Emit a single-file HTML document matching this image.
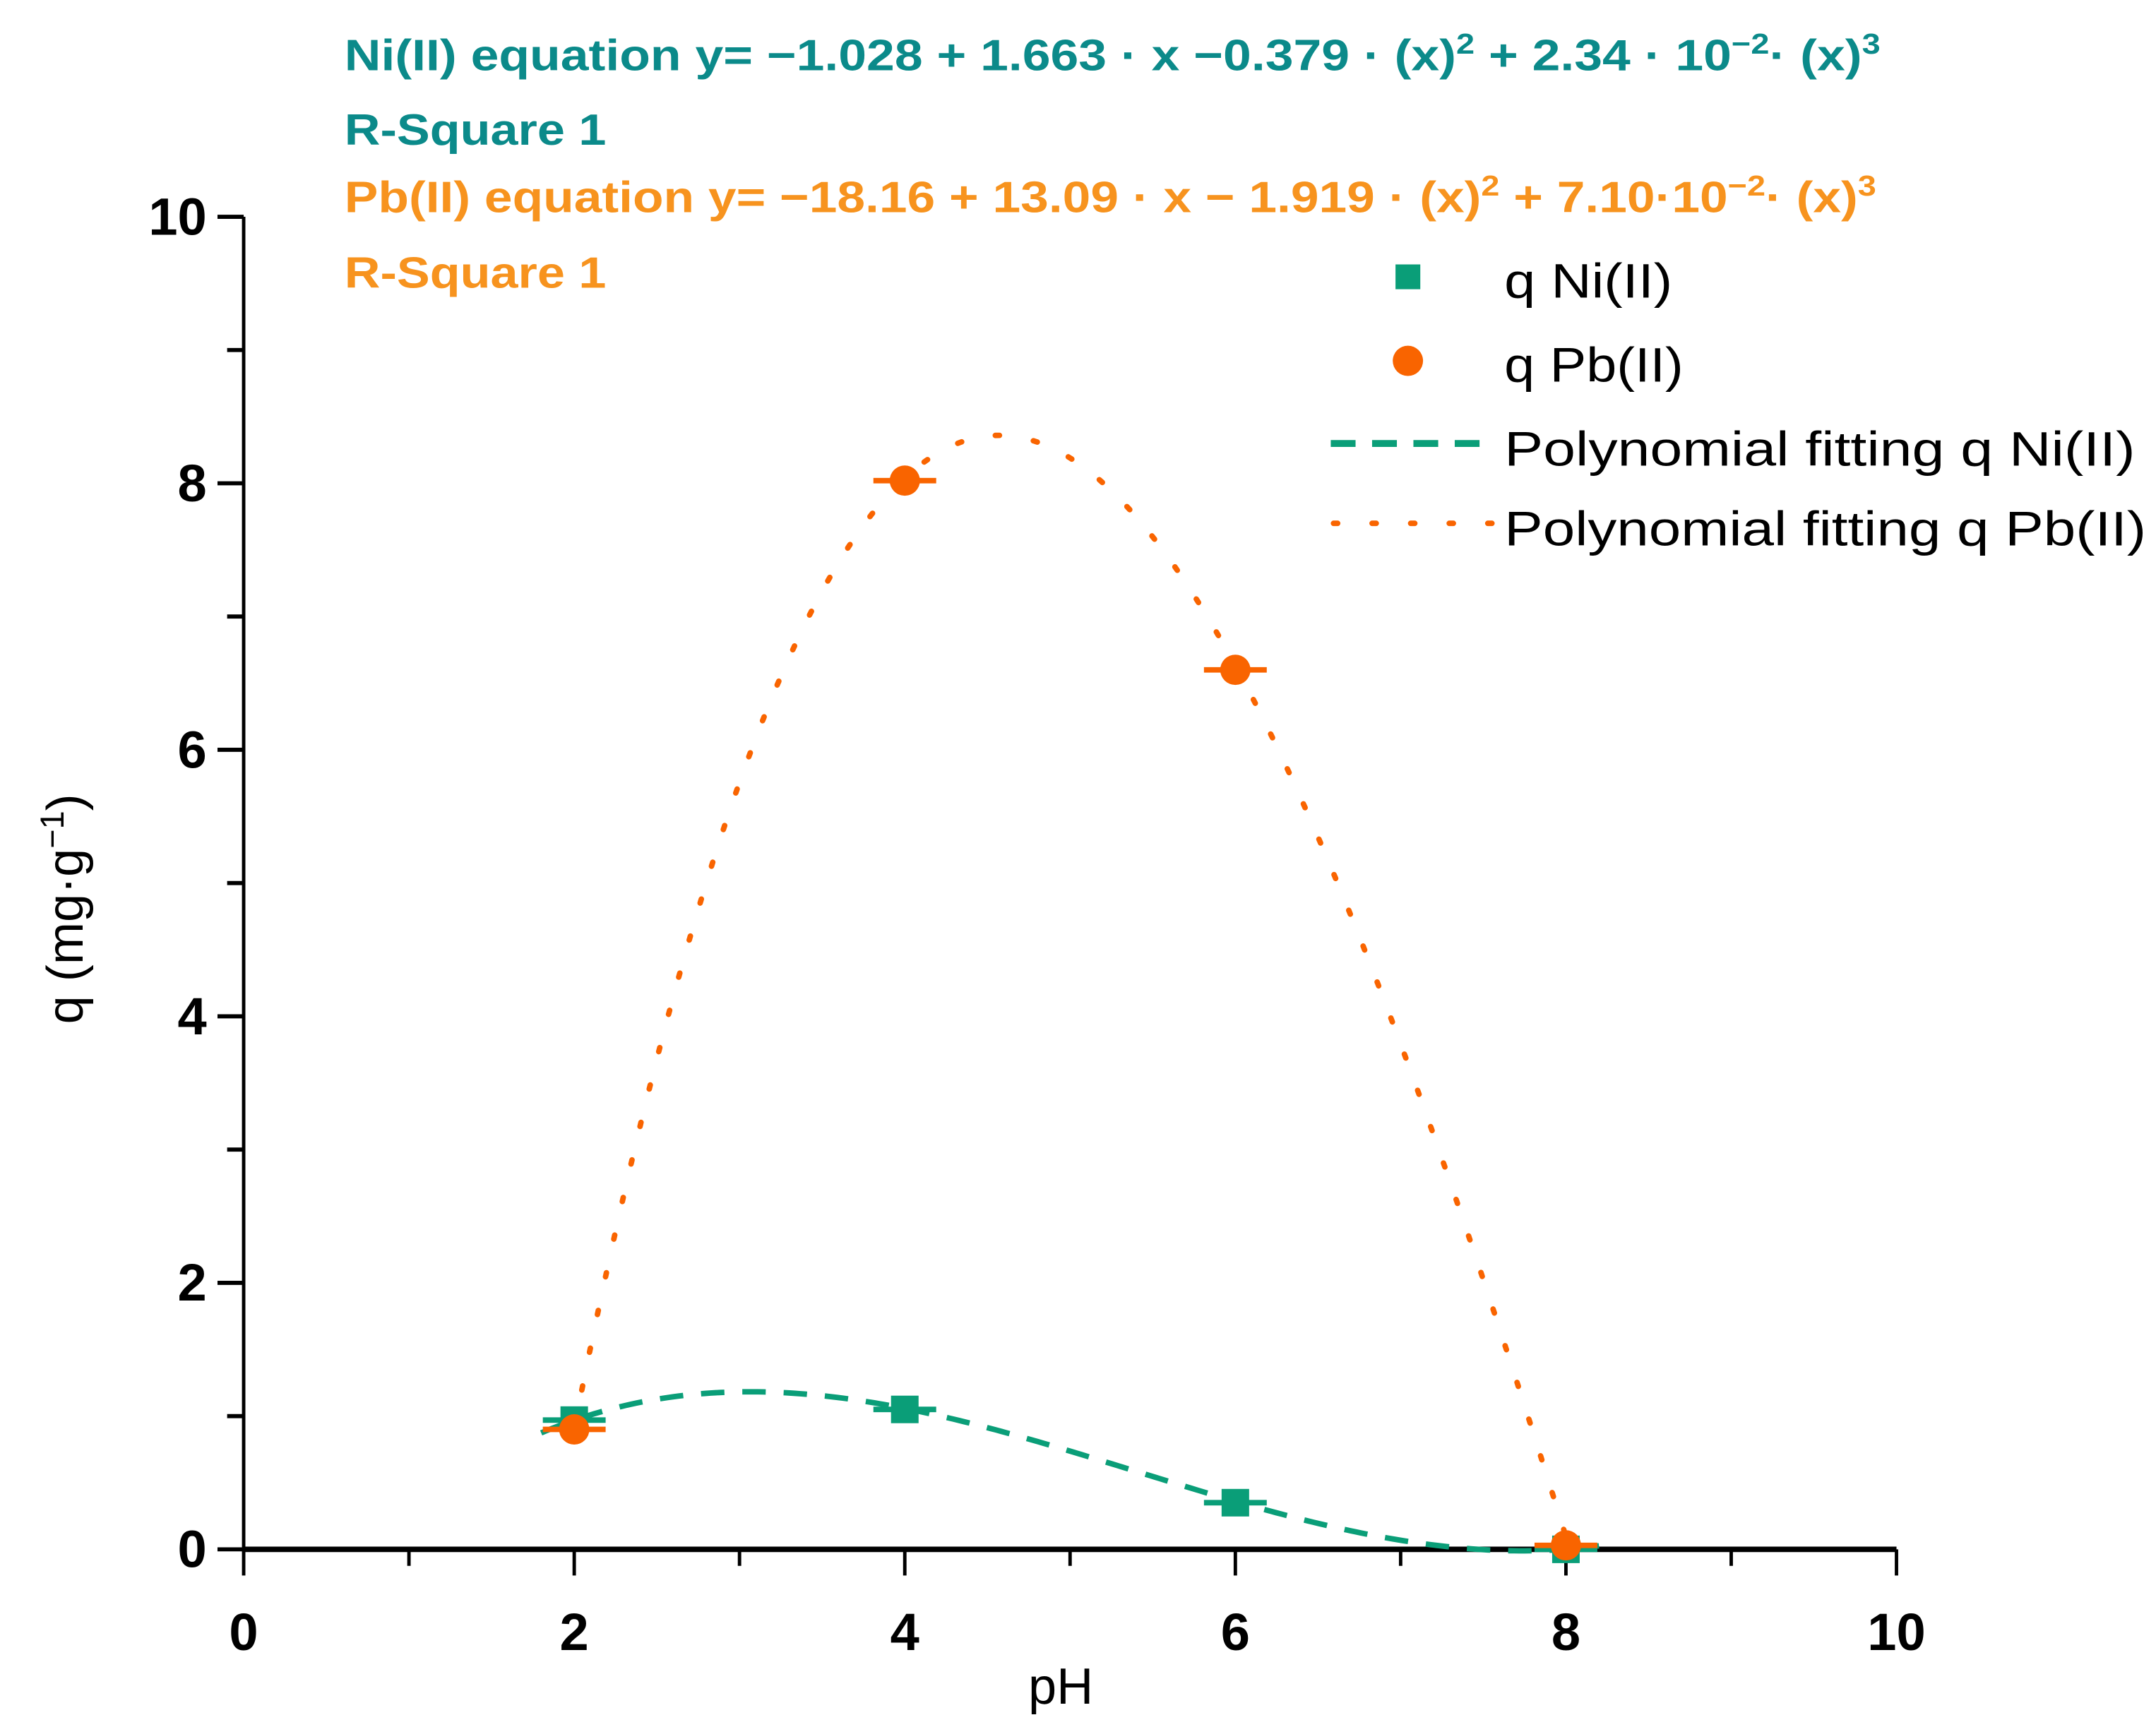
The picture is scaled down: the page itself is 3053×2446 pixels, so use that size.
<!DOCTYPE html>
<html><head><meta charset="utf-8"><style>
html,body{margin:0;padding:0;background:#fff;}
svg{display:block;}
text{font-family:"Liberation Sans",sans-serif;}
</style></head><body>
<svg id="chart" width="3053" height="2446" viewBox="0 0 1565 1254" xmlns="http://www.w3.org/2000/svg">
<g id="eq">
<text x="250" y="51" font-size="32" font-weight="bold" fill="#0b8a8a" textLength="1115" lengthAdjust="spacingAndGlyphs">Ni(II) equation  y= −1.028 + 1.663 · x −0.379 · (x)<tspan dy="-12" font-size="21">2</tspan><tspan dy="12"> + 2.34 · 10</tspan><tspan dy="-12" font-size="21">−2</tspan><tspan dy="12">· (x)</tspan><tspan dy="-12" font-size="21">3</tspan></text>
<text x="250" y="105" font-size="32" font-weight="bold" fill="#0b8a8a" textLength="190" lengthAdjust="spacingAndGlyphs">R-Square  1</text>
<text x="250" y="154" font-size="32" font-weight="bold" fill="#f7931e" textLength="1112" lengthAdjust="spacingAndGlyphs">Pb(II) equation  y= −18.16 + 13.09 · x − 1.919 · (x)<tspan dy="-12" font-size="21">2</tspan><tspan dy="12"> + 7.10·10</tspan><tspan dy="-12" font-size="21">−2</tspan><tspan dy="12">· (x)</tspan><tspan dy="-12" font-size="21">3</tspan></text>
<text x="250" y="209" font-size="32" font-weight="bold" fill="#f7931e" textLength="190" lengthAdjust="spacingAndGlyphs">R-Square  1</text>
</g>
<g id="axes"></g>
<g id="plot"></g>
<g id="legend">
<rect x="1013" y="192" width="18" height="18" fill="#0a9e78"/>
<text x="1092" y="216" font-size="35" textLength="122" lengthAdjust="spacingAndGlyphs">q Ni(II)</text>
<ellipse cx="1022" cy="262" rx="11" ry="11" fill="#f96400"/>
<text x="1092" y="277" font-size="35" textLength="130" lengthAdjust="spacingAndGlyphs">q Pb(II)</text>
<line x1="966" y1="322" x2="1084" y2="322" stroke="#0a9e78" stroke-width="5" stroke-dasharray="18,12"/>
<text x="1092" y="338" font-size="35" textLength="458" lengthAdjust="spacingAndGlyphs">Polynomial fitting q Ni(II)</text>
<line x1="968" y1="380" x2="1084" y2="380" stroke="#f96400" stroke-width="4" stroke-linecap="round" stroke-dasharray="3,25"/>
<text x="1092" y="396" font-size="35" textLength="466" lengthAdjust="spacingAndGlyphs">Polynomial fitting q Pb(II)</text>
</g>
</svg>
<script>
const xTicks=[0,2,4,6,8,10];
const yTicks=[0,2,4,6,8,10];
const pH=[2,4,6,8];
const qNi=[0.97,1.05,0.35,0.0];
const qPb=[0.9,8.02,6.6,0.03];
const xErr=[0.19,0.19,0.19,0.19];
const niCoef=[-1.028,1.663,-0.379,0.0234];
const pbCoef=[-18.16,13.09,-1.919,0.071];
const niRange=[1.8,8.2];
const pbRange=[2,8];

const NS='http://www.w3.org/2000/svg';
const X0=176.8,X1=1376.7,Y0=1125,Y1=157.4;
const sx=v=>X0+(v-0)/(10-0)*(X1-X0);
const sy=v=>Y0-(v-0)/(10-0)*(Y0-Y1);
function mk(tag,attrs,parent){const e=document.createElementNS(NS,tag);for(const k in attrs)e.setAttribute(k,attrs[k]);parent.appendChild(e);return e;}
const axes=document.getElementById('axes');
const plot=document.getElementById('plot');
let a=mk('line',{x1:X0,y1:Y0,x2:X1,y2:Y0,stroke:'#000','stroke-width':4},axes);


a=mk('line',{x1:X0,y1:Y0+2,x2:X0,y2:Y1,stroke:'#000','stroke-width':2.5},axes);


for(let v=0;v<=10;v++){
  const major=v%2===0;
  const t=mk('line',{x1:sx(v),y1:Y0,x2:sx(v),y2:Y0+(major?19:12),stroke:'#000','stroke-width':2.5},axes);
  
  
  const u=mk('line',{x1:X0,y1:sy(v),x2:X0-(major?19:12),y2:sy(v),stroke:'#000','stroke-width':3},axes);
  
  
}
xTicks.forEach(v=>{const t=mk('text',{x:sx(v),y:1198,'font-size':38,'font-weight':'bold','text-anchor':'middle'},axes);t.textContent=v;

});
yTicks.forEach(v=>{const t=mk('text',{x:150,y:sy(v)+13,'font-size':38,'font-weight':'bold','text-anchor':'end'},axes);t.textContent=v;

});
let xt=mk('text',{x:770,y:1237,'font-size':37,'text-anchor':'middle'},axes);xt.textContent='pH';


let yt=mk('text',{x:0,y:0,'font-size':37,'text-anchor':'middle',transform:'translate(60,660) rotate(-90)'},axes);
yt.innerHTML='q (mg·g<tspan dy="-14" font-size="24">−1</tspan><tspan dy="14">)</tspan>';


function poly(c,x){return c[0]+c[1]*x+c[2]*x*x+c[3]*x*x*x;}
function curve(c,r){let d='';for(let i=0;i<=200;i++){const x=r[0]+(r[1]-r[0])*i/200;d+=(i?'L':'M')+sx(x).toFixed(2)+','+sy(poly(c,x)).toFixed(2);}return d;}
let f=mk('path',{d:curve(niCoef,niRange),fill:'none',stroke:'#0a9e78','stroke-width':4,'stroke-dasharray':'17,13'},plot);


f=mk('path',{d:curve(pbCoef,pbRange),fill:'none',stroke:'#f96400','stroke-width':4,'stroke-linecap':'round','stroke-dasharray':'3,25'},plot);


pH.forEach((x,i)=>{
  let e=mk('line',{x1:sx(x-xErr[i]),y1:sy(qNi[i]),x2:sx(x+xErr[i]),y2:sy(qNi[i]),stroke:'#0a9e78','stroke-width':4},plot);
  
  
  let m=mk('rect',{x:sx(x)-10,y:sy(qNi[i])-10,width:20,height:20,fill:'#0a9e78'},plot);
  
  
});
pH.forEach((x,i)=>{
  let e=mk('line',{x1:sx(x-xErr[i]),y1:sy(qPb[i]),x2:sx(x+xErr[i]),y2:sy(qPb[i]),stroke:'#f96400','stroke-width':4},plot);
  
  
  let m=mk('circle',{cx:sx(x),cy:sy(qPb[i]),r:11,fill:'#f96400'},plot);
  
  
});
</script>
</body></html>
